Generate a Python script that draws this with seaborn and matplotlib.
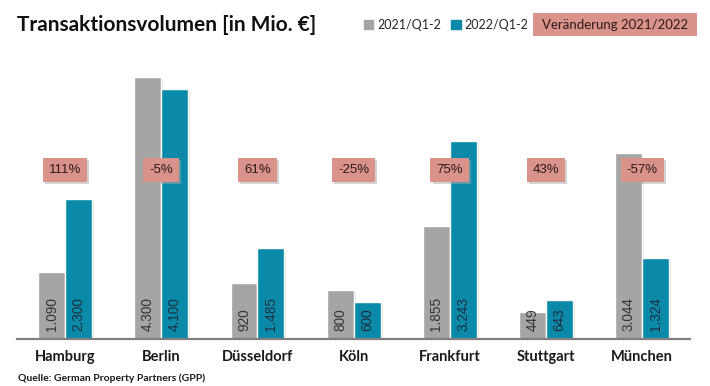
import pandas as pd
import numpy as np
import matplotlib.pyplot as plt
import matplotlib.patheffects as pe
from matplotlib.patches import Patch, Rectangle
import seaborn as sns

# data
staedte = ["Hamburg", "Berlin", "Düsseldorf", "Köln", "Frankfurt", "Stuttgart", "München"]
vol_2021 = [1090, 4300, 920, 800, 1855, 449, 3044]
vol_2022 = [2300, 4100, 1485, 600, 3243, 643, 1324]
label_2021 = ["1.090", "4.300", "920", "800", "1.855", "449", "3.044"]
label_2022 = ["2.300", "4.100", "1.485", "600", "3.243", "643", "1.324"]
veraenderung = ["111%", "-5%", "61%", "-25%", "75%", "43%", "-57%"]
serien = ["2021/Q1-2", "2022/Q1-2"]

grau = "#A5A5A5"
teal = "#0A89A8"
rosa = "#D9938B"

df = pd.DataFrame({
    "Stadt": staedte * 2,
    "Zeitraum": [serien[0]] * len(staedte) + [serien[1]] * len(staedte),
    "Volumen": vol_2021 + vol_2022,
})

sns.set_style("white")
plt.rcParams["font.family"] = ["Lato", "DejaVu Sans"]

fig = plt.figure(figsize=(7.1, 3.86), dpi=100)
ax = fig.add_axes([0.024, 0.122, 0.948, 0.723])

sns.barplot(data=df, x="Stadt", y="Volumen", hue="Zeitraum", order=staedte,
            hue_order=serien, palette=[grau, teal], width=0.56, gap=0,
            saturation=1, legend=False, ax=ax)

shadow = [pe.SimplePatchShadow(offset=(1.5, -1.5), shadow_rgbFace="#cccccc", alpha=0.5), pe.Normal()]
for bar in ax.patches:
    bar.set_path_effects(shadow)

ax.set_ylim(0, 4580)
ax.set_xlim(-0.5, 6.5)
ax.set_xlabel("")
ax.set_ylabel("")
ax.set_yticks([])
for s in ["top", "right", "left"]:
    ax.spines[s].set_visible(False)
ax.spines["bottom"].set_color("#808080")
ax.spines["bottom"].set_linewidth(1.6)
ax.tick_params(axis="x", length=0, pad=8)
for t in ax.get_xticklabels():
    t.set_fontsize(10.5)
    t.set_fontweight("bold")
    t.set_color("#1a1a1a")

# value labels inside the bars
for cont, labels, col in zip(ax.containers, [label_2021, label_2022], ["#333333", "#1c3040"]):
    for bar, lab in zip(cont, labels):
        ax.annotate(lab, (bar.get_x() + bar.get_width() / 2, 0), xytext=(0, 6),
                    textcoords="offset points", rotation=90, ha="center", va="bottom",
                    fontsize=9.8, color=col, family=["Liberation Sans", "DejaVu Sans"])

# change badges
trans = ax.get_xaxis_transform()
for i, txt in enumerate(veraenderung):
    t = ax.text(i, 0.606, txt, transform=trans, ha="center", va="center", fontsize=9.5,
                color="#2a1a1a", family=["Liberation Sans", "DejaVu Sans"],
                bbox=dict(boxstyle="square,pad=0.45", fc=rosa, ec="none"), zorder=5)
    t.get_bbox_patch().set_path_effects(
        [pe.SimplePatchShadow(offset=(1.5, -1.5), shadow_rgbFace="#aaaaaa", alpha=0.5), pe.Normal()])

fig.text(0.024, 0.935, "Transaktionsvolumen [in Mio. €]", fontsize=15, fontweight="bold",
         ha="left", va="center", color="#111111")

handles = [Patch(color=grau, label=serien[0]), Patch(color=teal, label=serien[1])]
fig.legend(handles=handles, loc="center left", bbox_to_anchor=(0.512, 0.935), ncol=2,
           frameon=False, handlelength=0.75, handleheight=0.75, handletextpad=0.35,
           columnspacing=0.8, fontsize=9, borderaxespad=0, borderpad=0)

# header box for the change badges
fig.patches.append(Rectangle((533 / 710, 1 - 36 / 386), 164 / 710, 23 / 386,
                             transform=fig.transFigure, fc=rosa, ec="none"))
fig.text(615 / 710, 0.935, "Veränderung 2021/2022", fontsize=9.5, ha="center", va="center",
         color="#2a1a1a")

fig.text(0.025, 0.021, "Quelle: German Property Partners (GPP)", fontsize=7.5,
         fontweight="bold", ha="left", va="center", color="#1a1a1a")

plt.savefig("out.png", dpi=100)
